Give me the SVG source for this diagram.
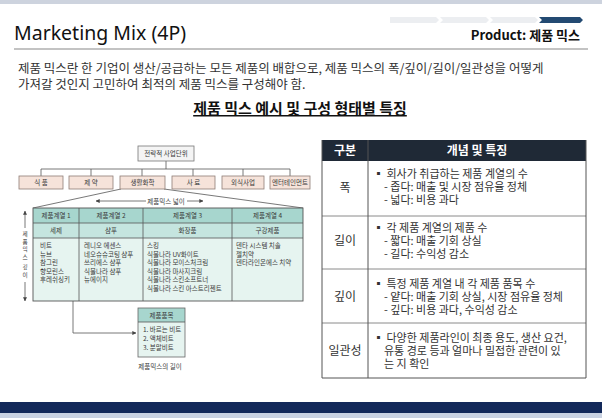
<svg xmlns="http://www.w3.org/2000/svg" width="602" height="418" viewBox="0 0 602 418">
<defs>
<style>
.kr{font-family:"Malgun Gothic","Noto Sans CJK KR","Noto Sans",sans-serif}
.sm{font-family:"Noto Sans CJK KR",sans-serif;font-size:6.5px;fill:#3a3a3a}
.smc{font-family:"Noto Sans CJK KR",sans-serif;font-size:6.5px;fill:#3a3a3a;text-anchor:middle}
.vt{font-family:"Noto Sans CJK KR",sans-serif;font-size:5.6px;fill:#3a3a3a;text-anchor:middle}
.ln{stroke:#555;stroke-width:0.8;fill:none}
.pink{fill:#f6e3da;stroke:#8f7d76;stroke-width:0.8}
.body{font-family:"Noto Sans CJK KR",sans-serif;font-size:11px;fill:#333}
.cat{font-family:"Noto Sans CJK KR",sans-serif;font-size:12px;fill:#333;text-anchor:middle}
</style>
<marker id="ah" viewBox="0 0 6 6" refX="5.5" refY="3" markerWidth="5" markerHeight="5" orient="auto-start-reverse">
<path d="M0,0 L6,3 L0,6 z" fill="#444"/>
</marker>
</defs>
<rect width="602" height="418" fill="#ffffff"/>
<!-- top band -->
<rect x="0" y="0" width="602" height="4" fill="#cdd3de"/>
<!-- progress chevrons -->
<g id="progress">
<polygon points="390,17 436,17 439,20 436,23 390,23" fill="#eceef1"/>
<polygon points="440,17 486,17 489,20 486,23 440,23 443,20" fill="#eceef1"/>
<polygon points="490,17 535,17 538,20 535,23 490,23 493,20" fill="#eceef1"/>
<polygon points="539,17 580,17 583,20 580,23 539,23 542,20" fill="#234a72"/>
</g>
<text x="14" y="40" font-family="'Noto Sans',sans-serif" font-size="19.5" fill="#111">Marketing Mix (4P)</text>
<text x="580" y="40" class="kr" font-size="13" font-weight="bold" fill="#111" text-anchor="end">Product: 제품 믹스</text>
<line x1="14" y1="49" x2="588" y2="49" stroke="#c3c3c3" stroke-width="2"/>
<text x="18" y="73" class="kr" font-size="12.5" fill="#333">제품 믹스란 한 기업이 생산/공급하는 모든 제품의 배합으로, 제품 믹스의 폭/깊이/길이/일관성을  어떻게</text>
<text x="18" y="89" class="kr" font-size="12.5" fill="#333">가져갈 것인지 고민하여 최적의 제품 믹스를 구성해야 함.</text>
<text x="300" y="114" class="kr" font-size="15" font-weight="bold" fill="#111" text-anchor="middle" text-decoration="underline">제품 믹스 예시 및 구성 형태별 특징</text>

<!-- left diagram -->
<g id="connectors">
<path class="ln" d="M166,161 V169 M41,169 H290 M41,169 V176 M91,169 V176 M142,169 V176 M193,169 V176 M243,169 V176 M290,169 V176"/>
<path class="ln" d="M121,189 L33,208 M164,189 L303,208"/>
<line class="ln" x1="146" y1="201" x2="96" y2="201" marker-end="url(#ah)"/>
<line class="ln" x1="187" y1="201" x2="203" y2="201" marker-end="url(#ah)"/>
<line class="ln" x1="25" y1="228" x2="25" y2="211" marker-end="url(#ah)"/>
<line class="ln" x1="25" y1="282" x2="25" y2="301" marker-end="url(#ah)"/>
<path class="ln" d="M58,246 H73 V333 H136" marker-end="url(#ah)"/>
</g>
<g id="sbu">
<rect x="138" y="146" width="56" height="15" fill="#f4f4f4" stroke="#777" stroke-width="0.8"/>
<text x="166" y="156" class="smc">전략적 사업단위</text>
</g>
<g id="divisions">
<rect class="pink" x="19" y="176" width="44" height="13"/>
<text x="41" y="185" class="smc">식   품</text>
<rect class="pink" x="69" y="176" width="44" height="13"/>
<text x="91" y="185" class="smc">제   약</text>
<rect class="pink" x="120" y="176" width="45" height="13"/>
<text x="142.5" y="185" class="smc">생활화학</text>
<rect class="pink" x="172" y="176" width="43" height="13"/>
<text x="193.5" y="185" class="smc">사   료</text>
<rect class="pink" x="222" y="176" width="42" height="13"/>
<text x="243" y="185" class="smc">외식사업</text>
<rect class="pink" x="270" y="176" width="40" height="13"/>
<text x="290" y="185" class="smc">엔터테인먼트</text>
</g>
<text x="166" y="203.5" class="smc">제품믹스 넓이</text>
<g id="depth-label" class="vt">
<text x="25" y="236">제</text>
<text x="25" y="243.5">품</text>
<text x="25" y="251">믹</text>
<text x="25" y="258.5">스</text>
<text x="25" y="269">깊</text>
<text x="25" y="276.5">이</text>
</g>
<g id="mix-table">
<rect x="33" y="208" width="270" height="15" fill="#a7d6ce"/>
<rect x="33" y="223" width="270" height="15" fill="#c5e5df"/>
<rect x="33" y="238" width="270" height="63" fill="#e6f4f0"/>
<rect x="33" y="208" width="270" height="93" fill="none" stroke="#555" stroke-width="0.9"/>
<path class="ln" d="M33,223 H303 M33,238 H303 M79,208 V301 M143,208 V301 M232,208 V301"/>
<text x="56" y="218" class="smc">제품계열 1</text>
<text x="111" y="218" class="smc">제품계열 2</text>
<text x="187.5" y="218" class="smc">제품계열 3</text>
<text x="267.5" y="218" class="smc">제품계열 4</text>
<text x="56" y="233" class="smc">세제</text>
<text x="111" y="233" class="smc">샴푸</text>
<text x="187.5" y="233" class="smc">화장품</text>
<text x="267.5" y="233" class="smc">구강제품</text>
<g class="sm">
<text x="40" y="248">비트</text>
<text x="40" y="256.5">뉴브</text>
<text x="40" y="265">참그린</text>
<text x="40" y="273.5">향모린스</text>
<text x="40" y="282">후레쉬싱키</text>
<text x="84" y="248">레니오 에센스</text>
<text x="84" y="256.5">네오슈슈코팅 샴푸</text>
<text x="84" y="265">쓰리에스 샴푸</text>
<text x="84" y="273.5">식물나라 샴푸</text>
<text x="84" y="282">뉴에이지</text>
<text x="147" y="248">스킹</text>
<text x="147" y="256.5">식물나라 UV화이트</text>
<text x="147" y="265">식물나라 모이스처크림</text>
<text x="147" y="273.5">식물나라 마사지크림</text>
<text x="147" y="282">식물나라 스킨소프트너</text>
<text x="147" y="290.5">식물나라 스킨 아스트리젠트</text>
<text x="236" y="248">덴타 시스템 치솔</text>
<text x="236" y="256.5">젤치약</text>
<text x="236" y="265">덴타라인온에스 치약</text>
</g>
</g>
<g id="item-box">
<rect x="138" y="308" width="47" height="14" fill="#a7d6ce"/>
<rect x="138" y="322" width="47" height="35" fill="#e6f4f0"/>
<rect x="138" y="308" width="47" height="49" fill="none" stroke="#666" stroke-width="0.8"/>
<line class="ln" x1="138" y1="322" x2="185" y2="322"/>
<text x="161.5" y="317.5" class="smc">제품품목</text>
<text x="143" y="332" class="sm">1. 바르는 비트</text>
<text x="143" y="341" class="sm">2. 액체비트</text>
<text x="143" y="350" class="sm">3. 분말비트</text>
</g>
<text x="160" y="369" class="smc">제품믹스의 길이</text>

<!-- right table -->
<g id="feature-table">
<rect x="322" y="140" width="264" height="21" fill="#1f2936"/>
<text x="345" y="155" class="kr" font-size="12" font-weight="bold" fill="#fff" text-anchor="middle">구분</text>
<text x="477" y="155" class="kr" font-size="12" font-weight="bold" fill="#fff" text-anchor="middle">개념 및 특징</text>
<path d="M322,216 H586 M322,269 H586 M322,323 H586" stroke="#8a8a8a" stroke-width="1" fill="none"/>
<path d="M322,140 V378 H586 V140 M368,140 V378" stroke="#555" stroke-width="1" fill="none"/>
</g>
<g id="row-width">
<text x="345" y="192" class="cat">폭</text>
<text x="373" y="178" class="body">▪ 회사가 취급하는 제품 계열의 수</text>
<text x="384" y="191" class="body">- 좁다: 매출 및 시장 점유율 정체</text>
<text x="384" y="204" class="body">- 넓다: 비용 과다</text>
</g>
<g id="row-length">
<text x="345" y="245" class="cat">길이</text>
<text x="373" y="232" class="body">▪ 각 제품 계열의 제품 수</text>
<text x="384" y="245" class="body">- 짧다: 매출 기회 상실</text>
<text x="384" y="258" class="body">- 길다: 수익성 감소</text>
</g>
<g id="row-depth">
<text x="345" y="301" class="cat">깊이</text>
<text x="373" y="288" class="body">▪ 특정 제품 계열 내 각 제품 품목 수</text>
<text x="384" y="301" class="body">- 얕다: 매출 기회 상실, 시장 점유율 정체</text>
<text x="384" y="314" class="body">- 깊다: 비용 과다, 수익성 감소</text>
</g>
<g id="row-consistency">
<text x="345" y="355" class="cat">일관성</text>
<text x="373" y="342" class="body">▪ 다양한 제품라인이 최종 용도, 생산 요건,</text>
<text x="384" y="355" class="body">유통 경로 등과 얼마나 밀접한 관련이 있</text>
<text x="384" y="368" class="body">는 지 확인</text>
</g>

<!-- bottom band -->
<rect x="0" y="402" width="602" height="11" fill="#13295a"/>
<rect x="0" y="413" width="602" height="5" fill="#c9d2e2"/>
</svg>
